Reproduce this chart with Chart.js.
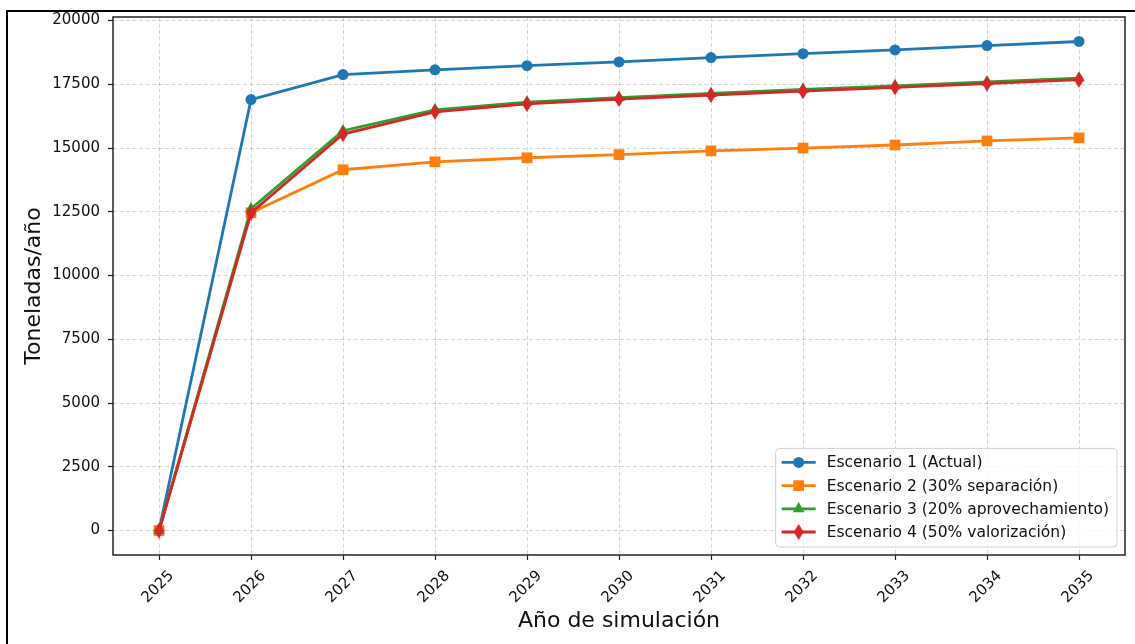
<!DOCTYPE html>
<html>
<head>
<meta charset="utf-8">
<script src="https://cdn.jsdelivr.net/npm/chart.js@4.4.0/dist/chart.umd.min.js"></script>
<style>
  html, body { margin: 0; padding: 0; background: #fff; }
  canvas { display: block; }
</style>
</head>
<body>
<canvas id="chart" width="1135" height="644"></canvas>
<script>
// Data
const years = [2025, 2026, 2027, 2028, 2029, 2030, 2031, 2032, 2033, 2034, 2035];
const escenario1 = [0, 16900, 17880, 18070, 18230, 18380, 18550, 18700, 18850, 19020, 19180];
const escenario2 = [0, 12460, 14150, 14460, 14620, 14740, 14890, 15000, 15120, 15280, 15400];
const escenario3 = [0, 12620, 15680, 16500, 16800, 16980, 17140, 17300, 17440, 17590, 17740];
const escenario4 = [0, 12460, 15550, 16420, 16730, 16920, 17080, 17230, 17380, 17530, 17680];
const seriesNames = [
  'Escenario 1 (Actual)',
  'Escenario 2 (30% separación)',
  'Escenario 3 (20% aprovechamiento)',
  'Escenario 4 (50% valorización)'
];
const yTicks = [0, 2500, 5000, 7500, 10000, 12500, 15000, 17500, 20000];
const xTitle = 'Año de simulación';
const yTitle = 'Toneladas/año';

const FONT = "'DejaVu Sans', sans-serif";
const colors = ['#1f77b4', '#ff7f0e', '#2ca02c', '#d62728'];

// thin diamond marker (matplotlib 'd')
const thinDiamond = document.createElement('canvas');
thinDiamond.width = 10;
thinDiamond.height = 16;
(function () {
  const c = thinDiamond.getContext('2d');
  c.fillStyle = colors[3];
  c.beginPath();
  c.moveTo(5, 0);
  c.lineTo(10, 8);
  c.lineTo(5, 16);
  c.lineTo(0, 8);
  c.closePath();
  c.fill();
})();

const markers = [
  { style: 'circle', radius: 5.5 },
  { style: 'rect', radius: 7.6 },
  { style: 'triangle', radius: 6.8 },
  { style: thinDiamond, radius: 6 }
];

function toPoints(values) {
  return years.map((yr, i) => ({ x: yr, y: values[i] }));
}

function drawMarker(ctx, idx, x, y) {
  const m = markers[idx];
  ctx.fillStyle = colors[idx];
  if (m.style === 'circle') {
    ctx.beginPath();
    ctx.arc(x, y, m.radius, 0, Math.PI * 2);
    ctx.fill();
  } else if (m.style === 'rect') {
    const s = m.radius * Math.SQRT1_2;
    ctx.fillRect(x - s, y - s, 2 * s, 2 * s);
  } else if (m.style === 'triangle') {
    const r = m.radius;
    ctx.beginPath();
    ctx.moveTo(x, y - r);
    ctx.lineTo(x + Math.sin(2 * Math.PI / 3) * r, y - Math.cos(2 * Math.PI / 3) * r);
    ctx.lineTo(x + Math.sin(4 * Math.PI / 3) * r, y - Math.cos(4 * Math.PI / 3) * r);
    ctx.closePath();
    ctx.fill();
  } else {
    ctx.drawImage(m.style, x - m.style.width / 2, y - m.style.height / 2);
  }
}

const extras = {
  id: 'extras',
  beforeDraw(chart) {
    const ctx = chart.ctx;
    ctx.save();
    ctx.fillStyle = '#fff';
    ctx.fillRect(0, 0, chart.width, chart.height);
    ctx.restore();
  },
  afterDatasetsDraw(chart) {
    // spines
    const a = chart.chartArea;
    const ctx = chart.ctx;
    ctx.save();
    ctx.strokeStyle = '#222';
    ctx.lineWidth = 1.5;
    ctx.strokeRect(a.left, a.top, a.right - a.left, a.bottom - a.top);
    ctx.restore();
  },
  afterDraw(chart) {
    const ctx = chart.ctx;
    const a = chart.chartArea;
    const xs = chart.scales.x;
    ctx.save();

    // rotated x tick labels
    ctx.fillStyle = '#111';
    ctx.font = '15px ' + FONT;
    ctx.textAlign = 'center';
    ctx.textBaseline = 'middle';
    years.forEach(yr => {
      const px = xs.getPixelForValue(yr);
      ctx.save();
      ctx.translate(px - 1, a.bottom + 32);
      ctx.rotate(-Math.PI / 4);
      ctx.fillText(String(yr), 0, 0);
      ctx.restore();
    });

    // axis titles
    ctx.font = '22px ' + FONT;
    ctx.textBaseline = 'alphabetic';
    ctx.fillText(xTitle, (a.left + a.right) / 2, a.bottom + 72);
    ctx.save();
    ctx.translate(40, (a.top + a.bottom) / 2);
    ctx.rotate(-Math.PI / 2);
    ctx.fillText(yTitle, 0, 0);
    ctx.restore();

    // legend (lower right)
    ctx.font = '15.5px ' + FONT;
    const textW = Math.max(...seriesNames.map(n => ctx.measureText(n).width));
    const rowH = 23.2;
    const lw = 51 + textW + 8;
    const lh = 14 + rowH * 3 + 15;
    const lx = a.right - 8 - lw;
    const ly = a.bottom - 8 - lh;
    ctx.beginPath();
    ctx.roundRect(lx, ly, lw, lh, 4);
    ctx.fillStyle = 'rgba(255,255,255,0.8)';
    ctx.fill();
    ctx.strokeStyle = '#d0d0d0';
    ctx.lineWidth = 1;
    ctx.stroke();
    ctx.textAlign = 'left';
    ctx.textBaseline = 'middle';
    seriesNames.forEach((name, i) => {
      const cy = ly + 14 + i * rowH;
      ctx.strokeStyle = colors[i];
      ctx.lineWidth = 2.8;
      ctx.beginPath();
      ctx.moveTo(lx + 6, cy);
      ctx.lineTo(lx + 40, cy);
      ctx.stroke();
      drawMarker(ctx, i, lx + 23, cy);
      ctx.fillStyle = '#111';
      ctx.fillText(name, lx + 51, cy + 1);
    });

    // outer frame of the picture
    ctx.strokeStyle = '#000';
    ctx.lineWidth = 2;
    ctx.beginPath();
    ctx.moveTo(7, chart.height);
    ctx.lineTo(7, 11);
    ctx.lineTo(chart.width, 11);
    ctx.stroke();
    ctx.restore();
  }
};

const allSeries = [escenario1, escenario2, escenario3, escenario4];

new Chart(document.getElementById('chart'), {
  type: 'line',
  data: {
    datasets: allSeries.map((vals, i) => ({
      label: seriesNames[i],
      data: toPoints(vals),
      borderColor: colors[i],
      backgroundColor: colors[i],
      borderWidth: 2.8,
      pointStyle: markers[i].style,
      pointRadius: markers[i].radius,
      pointHoverRadius: markers[i].radius,
      pointBorderWidth: 0,
      tension: 0,
      clip: false,
      order: 4 - i
    }))
  },
  options: {
    responsive: false,
    animation: false,
    events: [],
    layout: { padding: { top: 16, right: 10, left: 0, bottom: 0 } },
    plugins: {
      legend: { display: false },
      tooltip: { enabled: false }
    },
    scales: {
      x: {
        type: 'linear',
        min: 2024.5,
        max: 2035.5,
        afterBuildTicks: scale => { scale.ticks = years.map(v => ({ value: v })); },
        afterFit: scale => { scale.height = 89; },
        border: { display: false, dash: [4, 2.5] },
        grid: {
          color: 'rgba(0,0,0,0.17)',
          lineWidth: 1,
          drawTicks: true,
          tickLength: 5,
          tickColor: '#222',
          tickWidth: 1.2,
          tickBorderDash: []
        },
        ticks: { display: false }
      },
      y: {
        min: -960,
        max: 20140,
        afterBuildTicks: scale => { scale.ticks = yTicks.map(v => ({ value: v })); },
        afterFit: scale => { scale.width = 113; },
        border: { display: false, dash: [4, 2.5] },
        grid: {
          color: 'rgba(0,0,0,0.17)',
          lineWidth: 1,
          drawTicks: true,
          tickLength: 5,
          tickColor: '#222',
          tickWidth: 1.2,
          tickBorderDash: []
        },
        ticks: {
          color: '#111',
          padding: 8,
          font: { family: FONT, size: 15 },
          callback: v => String(v)
        }
      }
    }
  },
  plugins: [extras]
});
</script>
</body>
</html>
